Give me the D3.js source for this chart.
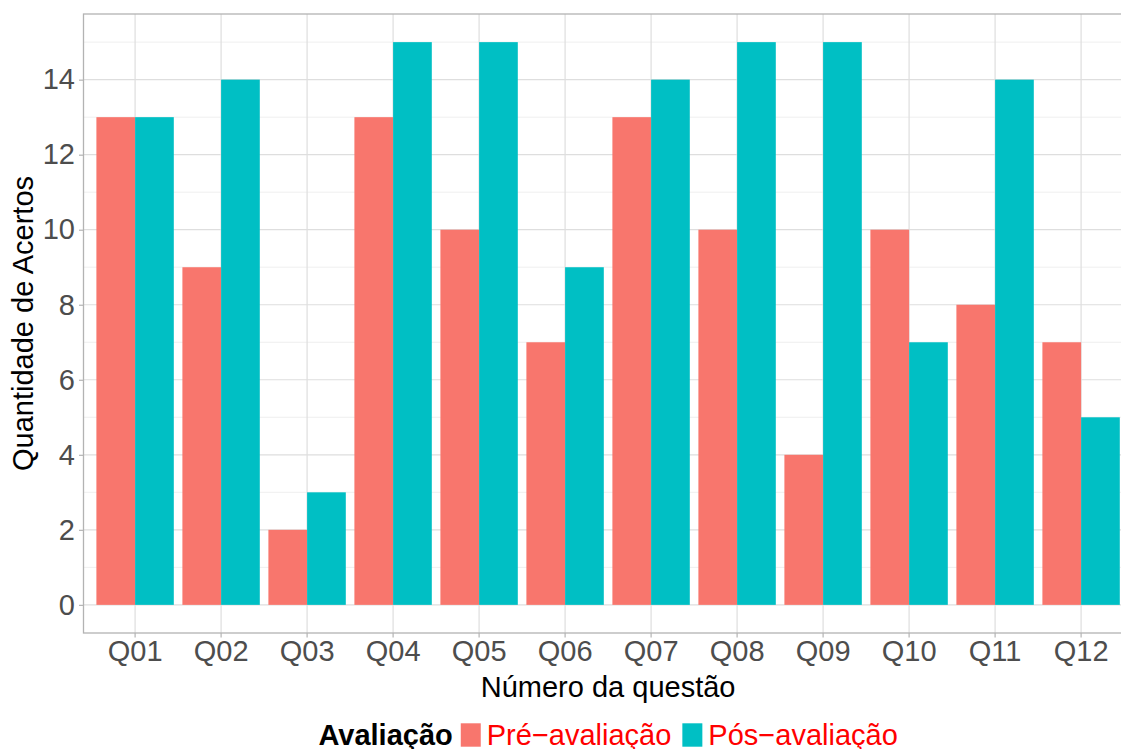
<!DOCTYPE html>
<html>
<head>
<meta charset="utf-8">
<script src="https://cdn.jsdelivr.net/npm/d3@7"></script>
<style>
  html, body { margin: 0; padding: 0; background: #fff; }
  svg { display: block; font-family: "Liberation Sans", Arial, Helvetica, sans-serif; }
</style>
</head>
<body>
<svg id="chart" width="1121" height="749"></svg>
<script>
const categories = ["Q01","Q02","Q03","Q04","Q05","Q06","Q07","Q08","Q09","Q10","Q11","Q12"];
const seriesNames = ["Pré−avaliação","Pós−avaliação"];
const preValues = [13, 9, 2, 13, 10, 7, 13, 10, 4, 10, 8, 7];
const posValues = [13, 14, 3, 15, 15, 9, 14, 15, 15, 7, 14, 5];
const yTicks = [0, 2, 4, 6, 8, 10, 12, 14];
const yMinorTicks = [1, 3, 5, 7, 9, 11, 13, 15];
const colors = ["#F8766D", "#00BFC4"];

const svg = d3.select("#chart");
const panel = { left: 83.5, right: 1132.7, top: 14, bottom: 633 };

const x = d3.scaleBand().domain(categories).range([panel.left, panel.right])
  .paddingInner(0).paddingOuter(0.1);
const y = d3.scaleLinear().domain([-0.75, 15.75]).range([panel.bottom, panel.top]);
const sub = d3.scaleBand().domain(seriesNames).range([0, x.bandwidth() * 0.9]);

const g = svg.append("g");

// minor grid
g.selectAll(".yminor").data(yMinorTicks).join("line")
  .attr("x1", panel.left).attr("x2", panel.right)
  .attr("y1", d => y(d)).attr("y2", d => y(d))
  .attr("stroke", "#ebebeb").attr("stroke-width", 0.8);
// major grid
g.selectAll(".ymajor").data(yTicks).join("line")
  .attr("x1", panel.left).attr("x2", panel.right)
  .attr("y1", d => y(d)).attr("y2", d => y(d))
  .attr("stroke", "#dedede").attr("stroke-width", 1.2);
g.selectAll(".xmajor").data(categories).join("line")
  .attr("x1", d => x(d) + x.bandwidth()/2).attr("x2", d => x(d) + x.bandwidth()/2)
  .attr("y1", panel.top).attr("y2", panel.bottom)
  .attr("stroke", "#dedede").attr("stroke-width", 1.2);

// bars
const rows = categories.map((c, i) => ({ cat: c, vals: [preValues[i], posValues[i]] }));
const groups = g.selectAll(".grp").data(rows).join("g")
  .attr("transform", d => `translate(${x(d.cat) + x.bandwidth()*0.05},0)`);
groups.selectAll("rect").data(d => d.vals.map((v, j) => ({ s: seriesNames[j], v, j })))
  .join("rect")
  .attr("x", d => sub(d.s))
  .attr("width", sub.bandwidth())
  .attr("y", d => y(d.v))
  .attr("height", d => y(0) - y(d.v))
  .attr("fill", d => colors[d.j]);

// panel border
g.append("rect")
  .attr("x", panel.left).attr("y", panel.top)
  .attr("width", panel.right - panel.left).attr("height", panel.bottom - panel.top)
  .attr("fill", "none").attr("stroke", "#b3b3b3").attr("stroke-width", 1.3);

// y axis
const yAxis = d3.axisLeft(y).tickValues(yTicks).tickSize(4.5).tickPadding(4);
const ya = svg.append("g").attr("transform", `translate(${panel.left},0)`).call(yAxis);
ya.select(".domain").remove();
ya.selectAll(".tick line").attr("stroke", "#b3b3b3").attr("stroke-width", 1.2);
ya.selectAll(".tick text").attr("fill", "#4d4d4d").attr("font-size", "29px")
  .attr("font-family", "Liberation Sans, Arial, sans-serif");

// x axis
const xAxis = d3.axisBottom(x).tickSize(4.5).tickPadding(3);
const xa = svg.append("g").attr("transform", `translate(0,${panel.bottom})`).call(xAxis);
xa.select(".domain").remove();
xa.selectAll(".tick line").attr("stroke", "#b3b3b3").attr("stroke-width", 1.2);
xa.selectAll(".tick text").attr("fill", "#4d4d4d").attr("font-size", "29px")
  .attr("font-family", "Liberation Sans, Arial, sans-serif");

// axis titles
const cx = (panel.left + panel.right) / 2;
svg.append("text").attr("x", cx).attr("y", 697)
  .attr("text-anchor", "middle").attr("font-size", "29px").attr("fill", "#000")
  .text("Número da questão");
svg.append("text")
  .attr("transform", `translate(33,${(panel.top + panel.bottom)/2}) rotate(-90)`)
  .attr("text-anchor", "middle").attr("font-size", "29px").attr("fill", "#000")
  .text("Quantidade de Acertos");

// legend
const leg = svg.append("g");
const baseY = 745;
const title = leg.append("text").attr("x", 0).attr("y", baseY)
  .attr("font-size", "29px").attr("font-weight", "bold").attr("fill", "#000")
  .text("Avaliação");
let cursor = title.node().getComputedTextLength() + 8;
seriesNames.forEach((s, j) => {
  leg.append("rect").attr("x", cursor).attr("y", 723.3).attr("width", 20).attr("height", 23.4)
    .attr("fill", colors[j]);
  cursor += 20 + 6;
  const t = leg.append("text").attr("x", cursor).attr("y", baseY)
    .attr("font-size", "29px").attr("fill", "#ff0000").text(s);
  cursor += t.node().getComputedTextLength() + (j === 0 ? 11 : 0);
});
leg.attr("transform", `translate(${cx - cursor/2},0)`);
</script>
</body>
</html>
